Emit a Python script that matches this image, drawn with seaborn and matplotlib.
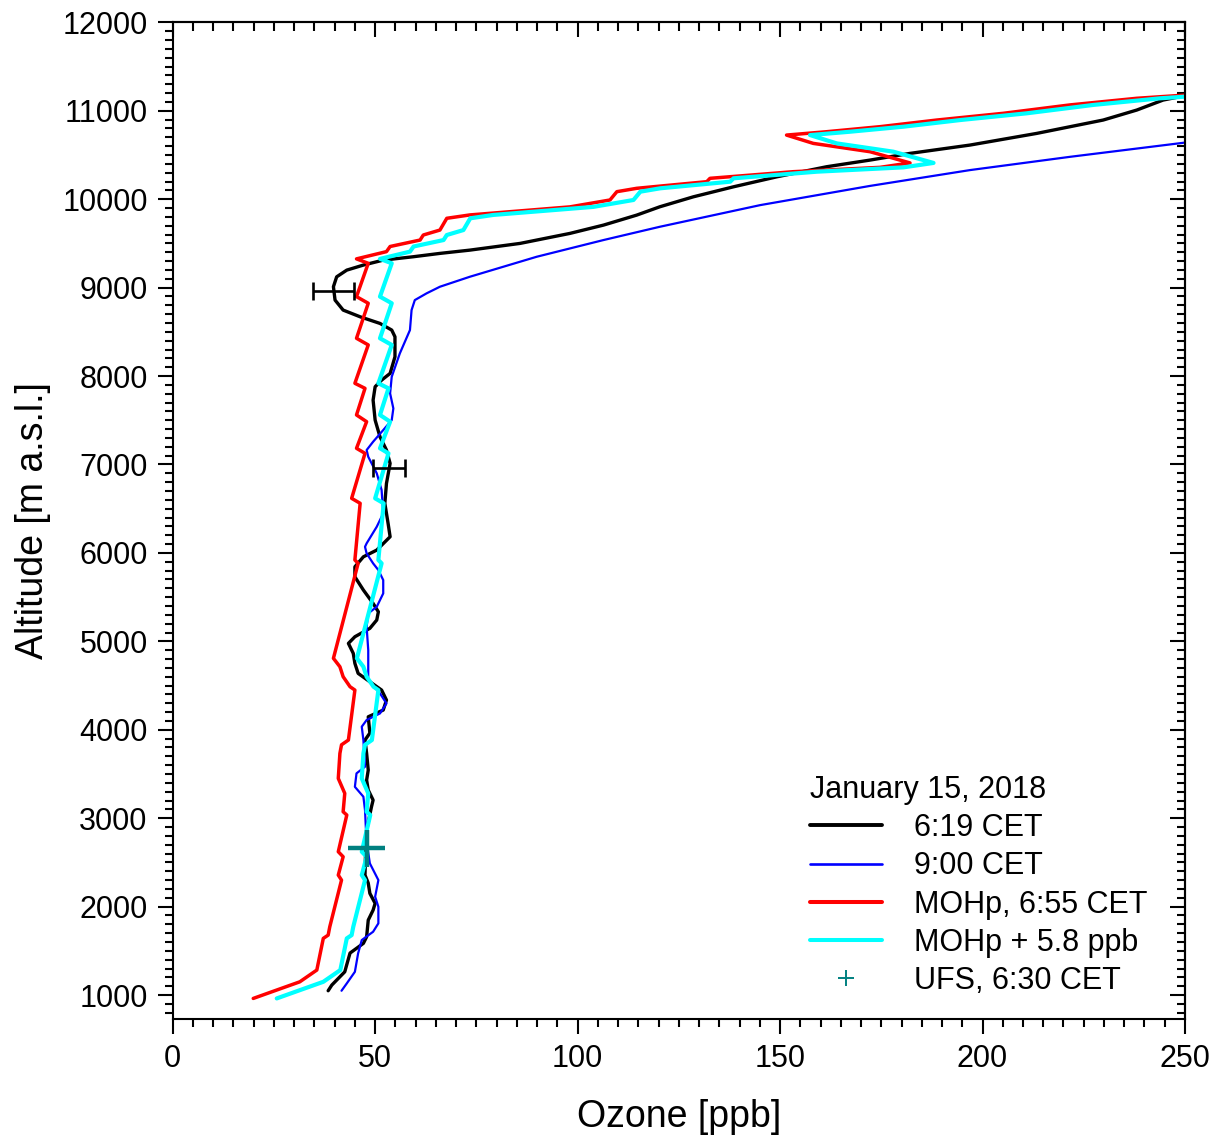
import numpy as np
import pandas as pd
import matplotlib
matplotlib.use("Agg")
import matplotlib.pyplot as plt
from matplotlib.ticker import MultipleLocator, NullFormatter
from matplotlib.lines import Line2D
import seaborn as sns

# ---------------- data ----------------
# 6:19 CET profile (ozone ppb, altitude m)
black_o3 = [38.4, 39.3, 42.5, 43.8, 47.1, 47.9, 48.3, 49.5, 50.0, 48.7, 48.3, 47.5, 47.6, 47.8, 47.9,
            49.1, 49.5, 48.3, 47.9, 48.3, 47.9, 47.5, 48.7, 48.3, 52.0, 52.8, 51.6, 48.7, 45.8, 45.0,
            44.6, 43.4, 45.0, 48.7, 50.4, 50.8, 49.5, 47.1, 45.0, 45.0, 47.1, 50.4, 53.7, 53.2, 52.4,
            52.8, 53.7, 52.8, 51.2, 50.0, 49.5, 50.0, 51.6, 53.7, 54.9, 54.9, 54.1, 51.2, 46.3, 42.1,
            40.1, 39.7, 40.5, 43.0, 47.1, 52.0, 59.4, 66.0, 73.4, 85.8, 98.1, 106.4, 114.6, 120.3,
            128.6, 138.5, 149.2, 161.5, 172.2, 182.1, 196.9, 213.4, 229.8, 238.1, 244.6, 250.0]
black_alt = [1049, 1113, 1263, 1475, 1585, 1659, 1848, 1961, 2037, 2150, 2266, 2357, 2550, 2700, 2866,
             3129, 3205, 3318, 3431, 3544, 3733, 3884, 3963, 4147, 4223, 4336, 4449, 4543, 4638, 4751,
             4864, 4977, 5052, 5147, 5241, 5334, 5429, 5580, 5730, 5843, 5956, 6032, 6183, 6334, 6560,
             6786, 7012, 7163, 7313, 7502, 7728, 7879, 7954, 8030, 8218, 8444, 8520, 8595, 8670, 8746,
             8859, 9010, 9122, 9198, 9255, 9311, 9349, 9387, 9424, 9500, 9613, 9707, 9820, 9914,
             10027, 10140, 10253, 10367, 10442, 10518, 10612, 10744, 10895, 11008, 11121, 11170]

# 9:00 CET profile
blue_o3 = [41.7, 43.0, 45.0, 45.8, 46.7, 49.5, 50.8, 50.8, 50.0, 50.8, 48.7, 48.0, 47.7, 47.5, 47.1,
           45.0, 45.4, 47.5, 47.1, 46.7, 47.9, 51.2, 52.8, 51.2, 48.3, 48.3, 47.9, 48.3, 50.4, 52.0,
           52.0, 50.8, 49.5, 47.9, 47.5, 47.9, 50.4, 52.0, 51.6, 50.4, 48.3, 47.9, 49.5, 52.0, 54.1,
           54.5, 53.7, 54.1, 56.1, 58.6, 59.0, 59.8, 62.7, 66.0, 73.4, 89.9, 106.4, 120.3, 145.1,
           172.2, 196.9, 221.6, 250.0]
blue_alt = [1049, 1132, 1263, 1472, 1622, 1716, 1811, 1998, 2112, 2300, 2489, 2700, 2900, 3092, 3243,
            3355, 3507, 3582, 3884, 4035, 4110, 4185, 4298, 4411, 4562, 4901, 5165, 5316, 5391, 5542,
            5693, 5806, 5882, 5995, 6069, 6108, 6296, 6447, 6711, 6900, 7087, 7163, 7257, 7389, 7502,
            7634, 7804, 7992, 8256, 8520, 8746, 8859, 8935, 9010, 9123, 9349, 9538, 9688, 9933,
            10150, 10329, 10479, 10640]

# MOHp, 6:55 CET profile (path order)
red_o3 = [19.9, 25.7, 31.4, 35.6, 37.2, 38.4, 38.8, 41.7, 40.9, 42.1, 40.9, 43.0, 42.1, 42.5, 40.9,
          41.3, 41.7, 43.4, 45.0, 43.8, 42.1, 41.3, 39.7, 45.8, 45.0, 46.3, 44.2, 47.5, 45.4, 47.9,
          45.4, 47.5, 45.0, 48.3, 45.4, 48.3, 45.4, 48.3, 45.4, 52.8, 53.7, 61.1, 61.9, 66.0, 67.7,
          73.4, 98.1, 108.0, 109.7, 114.6, 131.9, 132.7, 153.3, 174.7, 182.1, 172.2, 158.2, 151.6,
          161.5, 174.7, 188.7, 205.1, 221.6, 238.1, 250.0]
red_alt = [962, 1057, 1150, 1283, 1641, 1678, 1772, 2300, 2357, 2564, 2621, 3036, 3073, 3281, 3450,
           3733, 3830, 3884, 4449, 4487, 4600, 4713, 4808, 5882, 5920, 6561, 6617, 7126, 7183, 7484,
           7560, 7861, 7918, 8352, 8427, 8823, 8898, 9275, 9325, 9407, 9465, 9538, 9595, 9651, 9784,
           9822, 9913, 9991, 10085, 10123, 10198, 10236, 10311, 10360, 10410, 10537, 10631, 10725,
           10763, 10820, 10895, 10971, 11066, 11141, 11177]

# MOHp shifted by +5.8 ppb (as stated in the legend)
mohp_offset = 5.8

# error bars on the 6:19 profile
err_o3 = [39.7, 53.4]
err_alt = [8964, 6956]
err_x = [5.0, 4.0]

# UFS, 6:30 CET
ufs_o3 = [47.9]
ufs_alt = [2659]
ufs_xerr = [4.6]
ufs_yerr = [210]

labels = ["6:19 CET", "9:00 CET", "MOHp, 6:55 CET", "MOHp + 5.8 ppb", "UFS, 6:30 CET"]
legend_title = "January 15, 2018"

# ---------------- style ----------------
sns.set_theme(style="ticks")
plt.rcParams['font.family'] = ['Liberation Sans', 'DejaVu Sans']
plt.rcParams['axes.linewidth'] = 1.5
for k in ["text.color", "axes.labelcolor", "xtick.color", "ytick.color", "axes.edgecolor"]:
    plt.rcParams[k] = "black"

fig = plt.figure(figsize=(12.22, 11.39), dpi=100)
ax = fig.add_axes([0.1413, 0.1054, 0.9697 - 0.1413, 0.9804 - 0.1054])

df_black = pd.DataFrame({"o3": black_o3, "alt": black_alt})
df_blue = pd.DataFrame({"o3": blue_o3, "alt": blue_alt})
df_red = pd.DataFrame({"o3": red_o3, "alt": red_alt})
df_cyan = pd.DataFrame({"o3": np.array(red_o3) + mohp_offset, "alt": red_alt})

sns.lineplot(data=df_black, x="o3", y="alt", sort=False, estimator=None, color="black", lw=2.4, ax=ax)
sns.lineplot(data=df_blue, x="o3", y="alt", sort=False, estimator=None, color="#0000ff", lw=1.6, ax=ax)
sns.lineplot(data=df_red, x="o3", y="alt", sort=False, estimator=None, color="#ff0000", lw=2.5, ax=ax)
sns.lineplot(data=df_cyan, x="o3", y="alt", sort=False, estimator=None, color="#00ffff", lw=3.0, ax=ax)

ax.errorbar(err_o3, err_alt, xerr=err_x, fmt="none", ecolor="black", elinewidth=1.9,
            capsize=6.5, capthick=1.9, zorder=5)
ax.errorbar(ufs_o3, ufs_alt, xerr=ufs_xerr, yerr=ufs_yerr, fmt="none", ecolor="#008080",
            elinewidth=3.2, capsize=0, zorder=6)

ax.set_xlim(0, 250)
ax.set_ylim(730, 12000)

ax.xaxis.set_major_locator(MultipleLocator(50))
ax.xaxis.set_minor_locator(MultipleLocator(5))
ax.yaxis.set_major_locator(MultipleLocator(1000))
ax.yaxis.set_minor_locator(MultipleLocator(100))
ax.tick_params(axis="both", which="major", direction="out", length=11, width=1.5,
               labelsize=22, pad=7, colors="black")
ax.tick_params(axis="both", which="minor", direction="out", length=5.5, width=1.5)
ax.tick_params(top=False, right=False, which="both")

secx = ax.secondary_xaxis("top")
secx.xaxis.set_major_locator(MultipleLocator(50))
secx.xaxis.set_minor_locator(MultipleLocator(5))
secx.xaxis.set_major_formatter(NullFormatter())
secx.tick_params(axis="x", which="major", direction="in", length=11, width=1.5)
secx.tick_params(axis="x", which="minor", direction="in", length=6.5, width=1.5)

secy = ax.secondary_yaxis("right")
secy.yaxis.set_major_locator(MultipleLocator(1000))
secy.yaxis.set_minor_locator(MultipleLocator(100))
secy.yaxis.set_major_formatter(NullFormatter())
secy.tick_params(axis="y", which="major", direction="in", length=11, width=1.5)
secy.tick_params(axis="y", which="minor", direction="in", length=5.5, width=1.5)

for s in ax.spines.values():
    s.set_linewidth(1.5)
    s.set_color("black")

ax.set_xlabel("Ozone [ppb]", fontsize=27, labelpad=18)
ax.set_ylabel("Altitude [m a.s.l.]", fontsize=27, labelpad=8)
ax.set_facecolor("white")

handles = [
    Line2D([], [], color="black", lw=2.8),
    Line2D([], [], color="#0000ff", lw=1.9),
    Line2D([], [], color="#ff0000", lw=2.9),
    Line2D([], [], color="#00ffff", lw=2.9),
    Line2D([], [], color="#008080", lw=0, marker="+", markersize=11, markeredgewidth=1.4),
]
leg = ax.legend(handles, labels, title=legend_title, loc="upper left",
                bbox_to_anchor=(0.63, 0.245), frameon=False, fontsize=22,
                title_fontsize=22, handlelength=2.35, handletextpad=1.05,
                labelspacing=0.27, borderpad=0, borderaxespad=0, alignment="left")

fig.savefig("out.png", dpi=100, facecolor="white")
